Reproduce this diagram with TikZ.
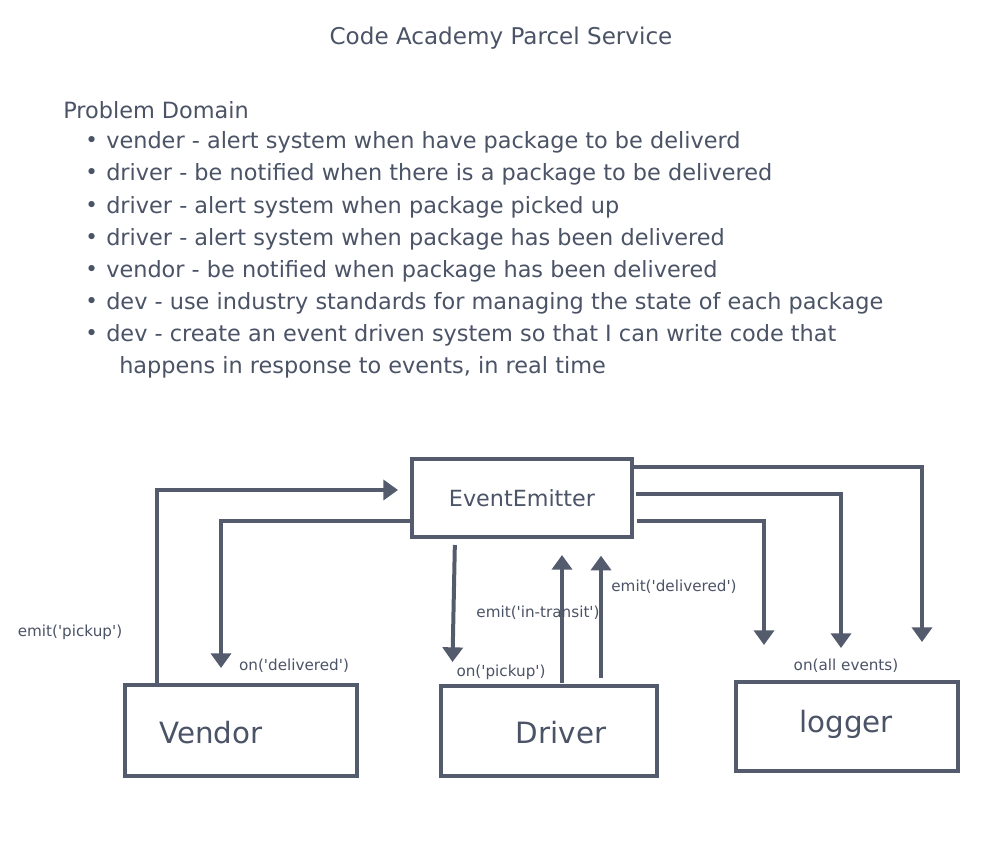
\documentclass[tikz,border=0pt]{standalone}
\usepackage{fontspec}
\setmainfont{DejaVu Sans}[Ligatures=TeXOff]
\usetikzlibrary{arrows.meta}
\definecolor{ink}{HTML}{545B6D}
\definecolor{txt}{HTML}{4B5366}
\begin{document}
\begin{tikzpicture}[x=0.75pt,y=-0.75pt,
  box/.style={draw=ink,line width=3pt,rectangle,outer sep=0pt,inner sep=0pt},
  conn/.style={draw=ink,line width=3pt,-{Triangle[width=15pt,length=11pt]}},
  body/.style={text=txt,anchor=west,inner sep=0pt,font=\fontsize{16.8}{20}\selectfont},
  small/.style={text=txt,inner sep=0pt,font=\fontsize{11.4}{13}\selectfont},
  boxtext/.style={text=txt,inner sep=0pt,font=\fontsize{22}{26}\selectfont}]
\useasboundingbox[fill=white] (0,0) rectangle (992,856);
% title and text
\node[text=txt,inner sep=0pt,font=\fontsize{17.3}{20}\selectfont] (title) at (501,38) {Code Academy Parcel Service};
\node[body] (pd) at (63,110) {Problem Domain};
\foreach \y/\t [count=\i] in {142/{vender - alert system when have package to be deliverd},
  174/{driver - be notified when there is a package to be delivered},
  207/{driver - alert system when package picked up},
  239/{driver - alert system when package has been delivered},
  271/{vendor - be notified when package has been delivered},
  303/{dev - use industry standards for managing the state of each package},
  335/{dev - create an event driven system so that I can write code that}}{
  \node[body,font=\fontsize{16}{18}\selectfont] (b\i) at (85,\y) {•};
  \node[body] (t\i) at (106,\y) {\t};
}
\node[body] (t8) at (119,367) {happens in response to events, in real time};
% boxes
\node[box,minimum width=165pt,minimum height=58.5pt] (ee) at (522,498) {};
\node[text=txt,inner sep=0pt,font=\fontsize{16.7}{19}\selectfont] (eet) at (522,498) {EventEmitter};
\node[box,minimum width=174pt,minimum height=68.25pt] (vendor) at (241,730.5) {};
\node[boxtext] (vendort) at (211,733) {Vendor};
\node[box,minimum width=162pt,minimum height=67.5pt] (driver) at (549,731) {};
\node[boxtext] (drivert) at (561,733) {Driver};
\node[box,minimum width=166.5pt,minimum height=66.75pt] (logger) at (847,726.5) {};
\node[boxtext] (loggert) at (846,724) {logger};
% connectors
\draw[conn,shorten >=10.5pt] (vendor.north -| 157,0) |- (ee.west |- 0,490);
\draw[conn,shorten >=12.75pt] (ee.west |- 0,521) -| (vendor.north -| 221,0);
\draw[conn,shorten <=6pt,shorten >=18pt] (ee.south -| 455,0) -- (driver.north -| 452,0);
\draw[conn,shorten <=2pt,shorten >=13.5pt] (driver.north -| 562,0) -- (ee.south -| 562,0);
\draw[conn,shorten <=6pt,shorten >=14pt] (driver.north -| 601,0) -- (ee.south -| 601,0);
\draw[conn,shorten >=30pt] (ee.east |- 0,467) -| (logger.north -| 922,0);
\draw[conn,shorten <=3pt,shorten >=25.5pt] (ee.east |- 0,494) -| (logger.north -| 841,0);
\draw[conn,shorten <=4pt,shorten >=27.75pt] (ee.east |- 0,521) -| (logger.north -| 764,0);
% labels
\node[small] (l1) at (70,632) {emit('pickup')};
\node[small] (l2) at (294,666) {on('delivered')};
\node[small] (l3) at (501,672) {on('pickup')};
\node[small] (l4) at (538,613) {emit('in-transit')};
\node[small] (l5) at (674,587) {emit('delivered')};
\node[small] (l6) at (846,666) {on(all events)};
\end{tikzpicture}
\end{document}
